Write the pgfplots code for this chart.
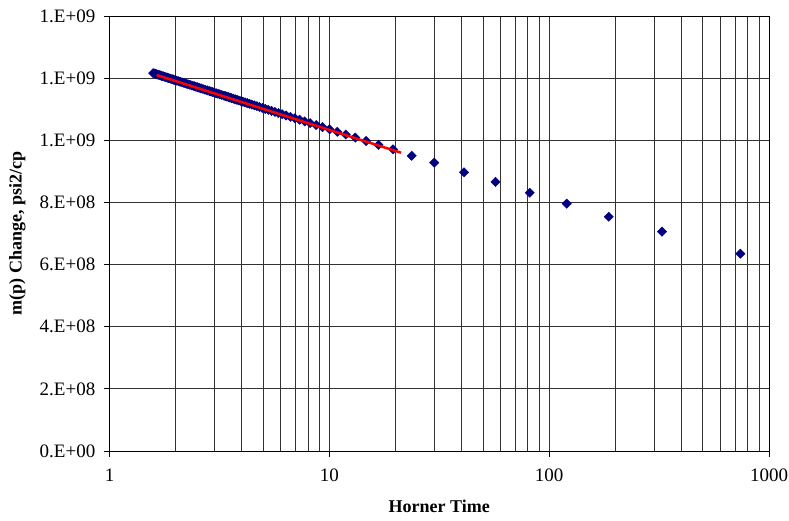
\documentclass[border=0pt]{standalone}
\usepackage{fontspec}
\setmainfont{Liberation Serif}
\usepackage{pgfplots}
\pgfplotsset{compat=1.18}
\definecolor{navy}{RGB}{0,0,128}

\begin{document}
\fontsize{18}{21}\selectfont
\begin{tikzpicture}
\begin{axis}[
  set layers,
  xmode=log, log basis x=10,
  xmin=1, xmax=1000, ymin=0, ymax=1.4e9,
  width=659.5pt, height=435pt, scale only axis,
  xtick={1,10,100,1000},
  xticklabels={1,10,100,1000},
  minor xtick={2,3,4,5,6,7,8,9,20,30,40,50,60,70,80,90,200,300,400,500,600,700,800,900},
  ytick={0,2e8,4e8,6e8,8e8,1e9,1.2e9,1.4e9},
  yticklabels={\textrm{0.E+00},\textrm{2.E+08},\textrm{4.E+08},\textrm{6.E+08},\textrm{8.E+08},\textrm{1.E+09},\textrm{1.E+09},\textrm{1.E+09}},
  scaled y ticks=false,
  xtick pos=bottom, ytick pos=left,
  tick align=outside,
  major tick length=6pt, minor tick length=0pt,
  xmajorgrids, xminorgrids, ymajorgrids,
  major grid style={black!80, line width=0.8pt},
  minor grid style={black!80, line width=0.8pt},
  axis line style={black, line width=0.9pt},
  tick style={black, line width=0.9pt},
  tick label style={font=\fontsize{19}{22}\selectfont},
  xticklabel style={yshift=-6pt},
  yticklabel style={xshift=-2pt},
  xlabel={\textbf{Horner Time}},
  ylabel={\textbf{m(p) Change, psi2/cp}},
  label style={font=\fontsize{18}{21}\selectfont},
  xlabel style={yshift=-6pt},
  ylabel style={yshift=2pt},
  clip=false,
]
\coordinate (bl) at (rel axis cs:0,0);
\coordinate (tr) at (rel axis cs:1,1);
\addplot[only marks, mark=square*, mark size=3.3pt, color=navy, mark options={rotate=45, fill=navy, draw=navy}] coordinates {
(741,6.35e8) (326,7.06e8) (186.7,7.54e8) (120.2,7.96e8) (81.6,8.31e8)
(57.0,8.66e8) (41.0,8.97e8) (30.0,9.28e8) (23.7,9.50e8) (19.5,9.71e8)
(16.74,9.851e8) (14.70,9.978e8) (13.13,10.088e8) (11.88,10.186e8) (10.87,10.273e8)
(10.02,10.353e8) (9.31,10.425e8) (8.71,10.490e8) (8.18,10.552e8) (7.727,10.607e8)
(7.325,10.660e8) (6.968,10.709e8) (6.649,10.754e8) (6.362,10.798e8) (6.103,10.839e8)
(5.868,10.877e8) (5.654,10.913e8) (5.458,10.948e8) (5.277,10.981e8) (5.111,11.012e8)
(4.957,11.042e8) (4.814,11.071e8) (4.682,11.098e8) (4.558,11.124e8) (4.442,11.149e8)
(4.333,11.174e8) (4.231,11.197e8) (4.136,11.219e8) (4.045,11.241e8) (3.960,11.262e8)
(3.879,11.282e8) (3.803,11.302e8) (3.731,11.320e8) (3.662,11.338e8) (3.596,11.356e8)
(3.534,11.373e8) (3.475,11.390e8) (3.418,11.406e8) (3.364,11.421e8) (3.313,11.437e8)
(3.242,11.458e8) (3.176,11.478e8) (3.114,11.497e8) (3.056,11.515e8) (3.000,11.534e8)
(2.947,11.551e8) (2.897,11.568e8) (2.850,11.584e8) (2.783,11.607e8) (2.721,11.629e8)
(2.663,11.650e8) (2.609,11.670e8) (2.558,11.690e8) (2.510,11.708e8) (2.465,11.726e8)
(2.423,11.743e8) (2.370,11.764e8) (2.321,11.785e8) (2.276,11.804e8) (2.233,11.823e8)
(2.184,11.844e8) (2.138,11.865e8) (2.096,11.885e8) (2.057,11.903e8) (2.021,11.920e8)
(1.987,11.937e8) (1.955,11.953e8) (1.925,11.968e8) (1.892,11.985e8) (1.860,12.002e8)
(1.831,12.017e8) (1.804,12.032e8) (1.779,12.045e8) (1.755,12.058e8) (1.729,12.073e8)
(1.705,12.087e8) (1.682,12.100e8) (1.661,12.112e8) (1.638,12.126e8) (1.617,12.139e8)
(1.597,12.151e8) (1.579,12.162e8)
};
\addplot[red, line width=2.5pt, on layer=axis foreground] coordinates {(1.64,12.10e8) (21.2,9.60e8)};
\end{axis}
\pgfresetboundingbox
\path ([xshift=-109.5pt,yshift=-69pt]bl) rectangle ([xshift=20pt,yshift=16pt]tr);
\end{tikzpicture}
\end{document}
